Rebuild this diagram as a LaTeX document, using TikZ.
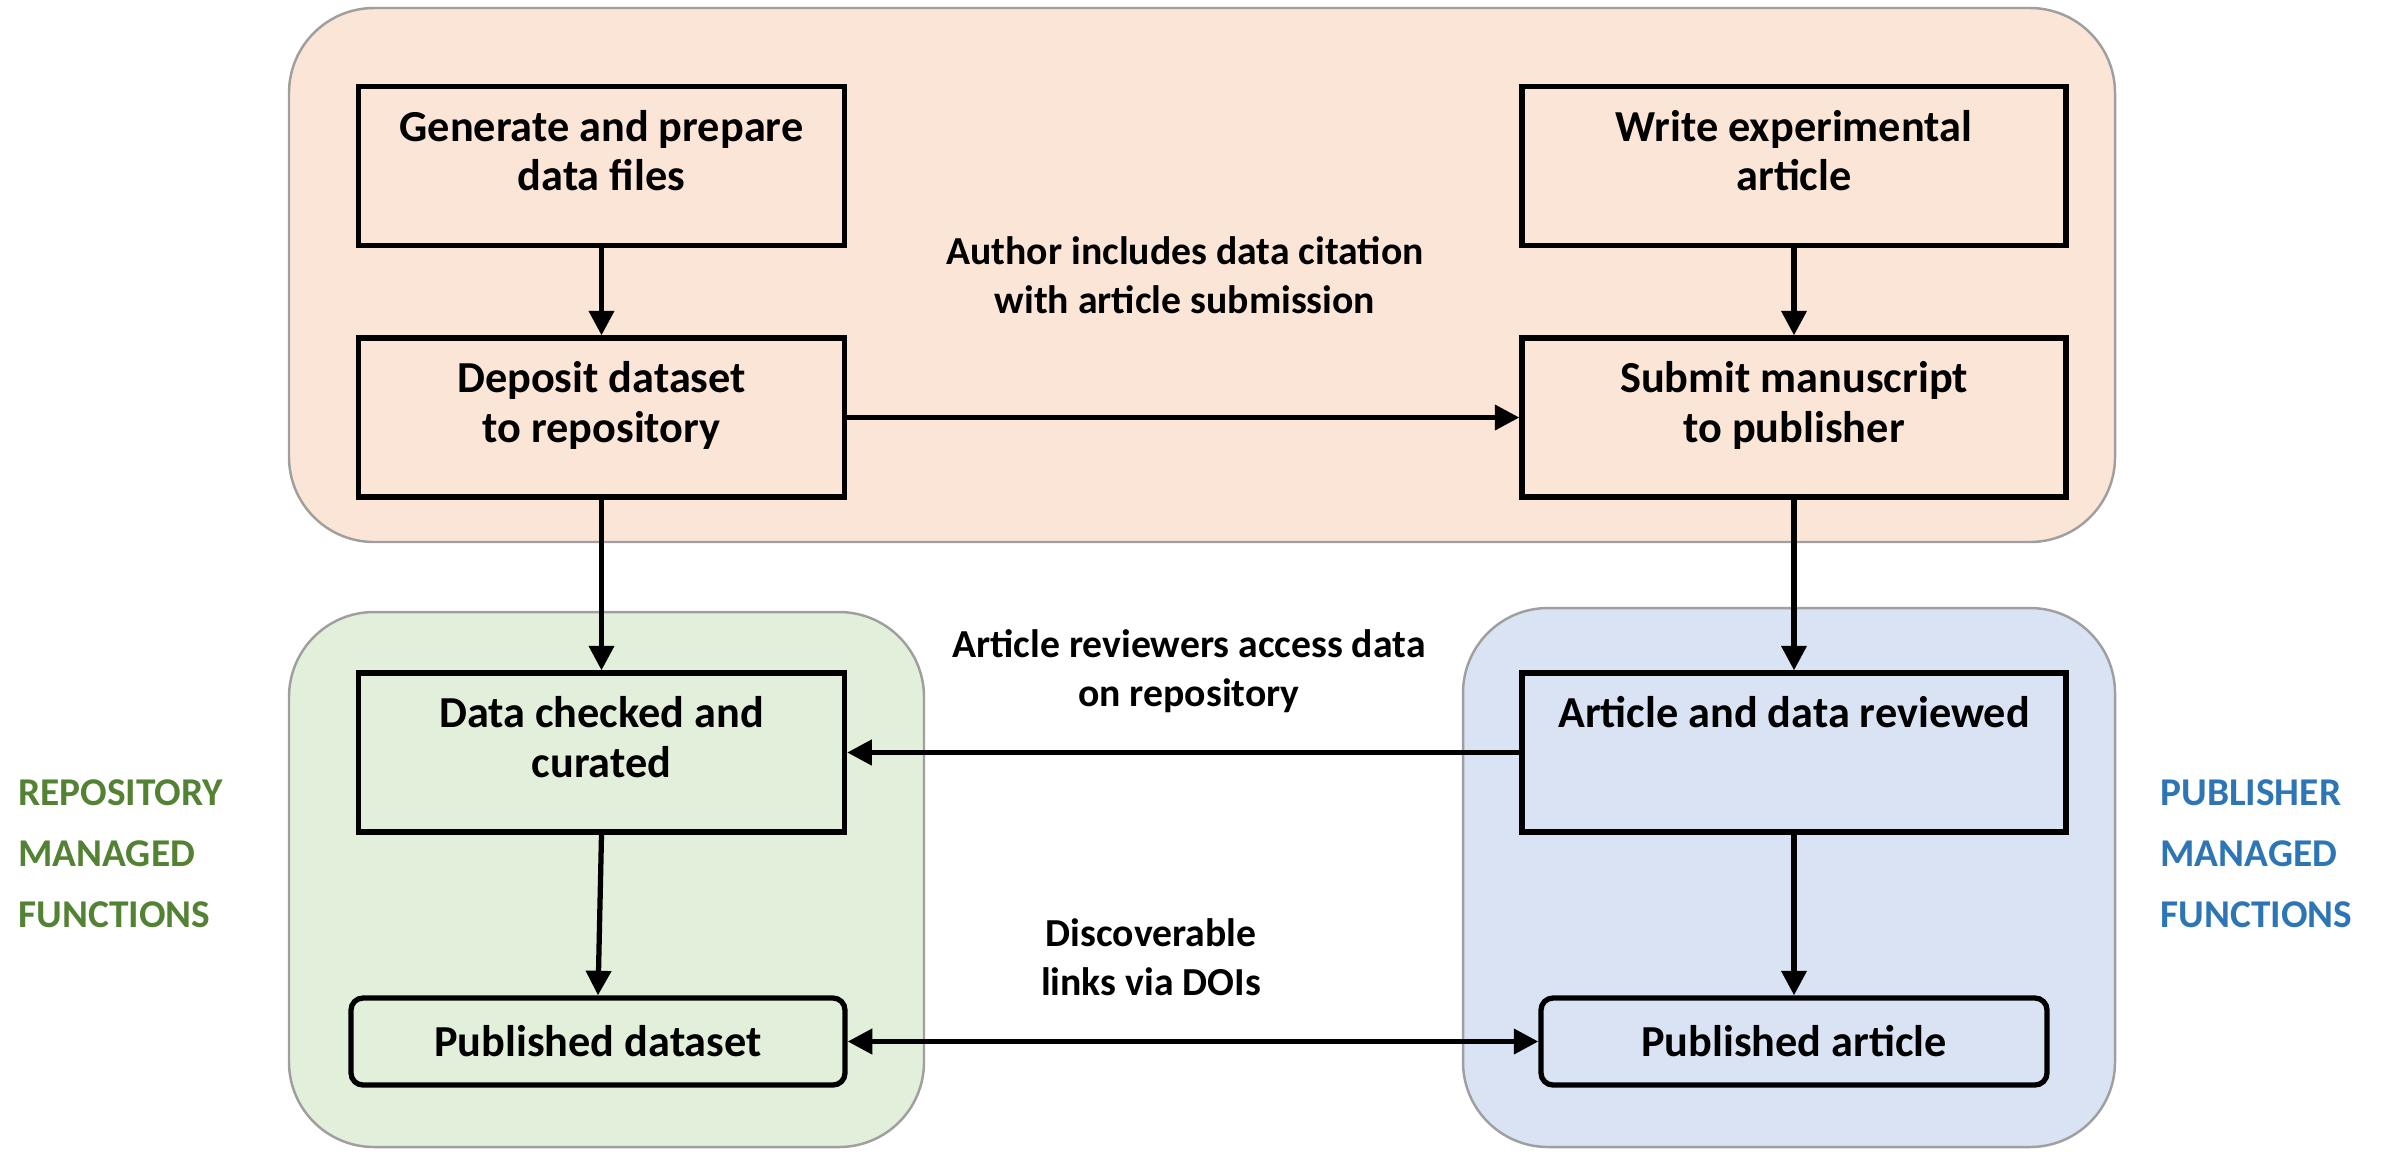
\documentclass[tikz,border=0pt]{standalone}
\usepackage{fontspec}
\setmainfont{Carlito}
\usetikzlibrary{arrows.meta}

\definecolor{authorfill}{HTML}{FBE5D6}
\definecolor{repofill}{HTML}{E2EFDA}
\definecolor{pubfill}{HTML}{DAE3F3}
\definecolor{repotext}{HTML}{548235}
\definecolor{pubtext}{HTML}{2E75B6}

\tikzset{
	area/.style = {
		draw = gray!75,
		line width = 0.7pt,
		rounded corners = 0.85cm,
	},
	stepbox/.style = {
		draw,
		line width = 1.5pt,
		minimum height = 1.59cm,
	},
	boxtext/.style = {
		anchor = north,
		yshift = -0.14cm,
		align = center,
		font = \fontsize{12.6}{14}\selectfont\bfseries,
	},
	endbox/.style = {
		draw,
		line width = 1.5pt,
		rounded corners = 0.12cm,
		minimum height = 0.87cm,
		font = \fontsize{12.6}{14}\selectfont\bfseries,
	},
	note/.style = {
		align = center,
		font = \fontsize{11.3}{14}\selectfont\bfseries,
	},
	side/.style = {
		anchor = west,
		align = left,
		font = \fontsize{11.2}{17.4}\selectfont\bfseries,
	},
	flow/.style = {
		line width = 1.5pt,
		-{Triangle[length = 7pt, width = 7pt]},
	},
}

\begin{document}
\begin{tikzpicture}
	
	\useasboundingbox (0,0) rectangle (23.82,-11.51);
	
	\fill[authorfill, area] (2.89,-0.08) rectangle (21.15,-5.42);
	\fill[repofill, area] (2.89,-6.12) rectangle (9.24,-11.47);
	\fill[pubfill, area] (14.63,-6.08) rectangle (21.15,-11.47);
	
	% author steps
	\node[
		stepbox,
		minimum width = 4.86cm,
		label = {[boxtext]north:Generate and prepare\\data files},
	] (gen) at (6.015,-1.66) {};
	
	\node[
		stepbox,
		minimum width = 4.86cm,
		label = {[boxtext]north:Deposit dataset\\to repository},
	] (dep) at (6.015,-4.175) {};
	
	\node[
		stepbox,
		minimum width = 5.44cm,
		label = {[boxtext]north:Write experimental\\article},
	] (write) at (17.94,-1.66) {};
	
	\node[
		stepbox,
		minimum width = 5.44cm,
		label = {[boxtext]north:Submit manuscript\\to publisher},
	] (submit) at (17.94,-4.175) {};
	
	% managed steps
	\node[
		stepbox,
		minimum width = 4.86cm,
		label = {[boxtext]north:Data checked and\\curated},
	] (check) at (6.015,-7.525) {};
	
	\node[
		stepbox,
		minimum width = 5.44cm,
		label = {[boxtext]north:Article and data reviewed},
	] (review) at (17.94,-7.525) {};
	
	\node[endbox, minimum width = 4.94cm]
		(pubdata) at (5.98,-10.415) {Published dataset};
	
	\node[endbox, minimum width = 5.06cm]
		(pubart) at (17.94,-10.415) {Published article};
	
	\draw[flow] (gen) -- (dep);
	\draw[flow] (write) -- (submit);
	\draw[flow] (dep) -- (submit);
	\draw[flow] (dep) -- (check);
	\draw[flow] (submit) -- (review);
	\draw[flow] (review) -- (check);
	\draw[flow] (check.south) -- (pubdata.north);
	\draw[flow] (review) -- (pubart);
	\draw[
		line width = 1.5pt,
		{Triangle[length = 7pt, width = 7pt]}-{Triangle[length = 7pt, width = 7pt]},
	] (pubdata) -- (pubart);
	
	\node[note] (cite) at (11.85,-2.75)
		{Author includes data citation\\with article submission};
	\node[note] (access) at (11.89,-6.715)
		{Article reviewers access data\\on repository};
	\node[note] (doi) at (11.51,-9.57)
		{Discoverable\\links via DOIs};
	
	\node[side, text = repotext] (repo) at (0.06,-8.54)
		{REPOSITORY\\MANAGED\\FUNCTIONS};
	\node[side, text = pubtext] (pub) at (21.48,-8.54)
		{PUBLISHER\\MANAGED\\FUNCTIONS};
	
\end{tikzpicture}
\end{document}
